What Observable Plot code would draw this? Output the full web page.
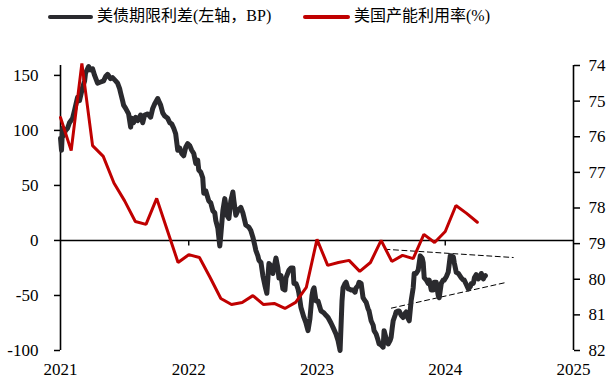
<!DOCTYPE html>
<html>
<head>
<meta charset="utf-8">
<script src="https://cdn.jsdelivr.net/npm/d3@7"></script>
<script src="https://cdn.jsdelivr.net/npm/@observablehq/plot@0.6"></script>
<style>
  html, body { margin: 0; padding: 0; background: #fff; }
  #wrap { width: 608px; height: 383px; position: relative; overflow: hidden; }
  #legend { position: relative; height: 35px; font-family: "Liberation Serif", "Noto Sans CJK SC", serif; font-size: 16px; color: #000; }
  .sw { position: absolute; top: 15px; height: 3.5px; border-radius: 2px; }
  .lt { position: absolute; top: 6px; white-space: nowrap; line-height: 20px; }
  svg { display: block; }
</style>
</head>
<body>
<div id="wrap">
  <div id="legend">
    <div class="sw" style="left:48px;width:45px;background:#2a2a2e"></div>
    <div class="lt" style="left:97px">美债期限利差(左轴，BP)</div>
    <div class="sw" style="left:303px;width:47px;background:#c00000"></div>
    <div class="lt" style="left:354px">美国产能利用率(%)</div>
  </div>
  <div id="chart"></div>
</div>
<script>
// ---- data ----
const years = [2021, 2022, 2023, 2024, 2025];
const leftTicks = [150, 100, 50, 0, -50, -100];
const rightTicks = [74, 75, 76, 77, 78, 79, 80, 81, 82];

// 美债期限利差 (BP), time as decimal year
const spreadT = [
  2021.000, 2021.008, 2021.016, 2021.023, 2021.039, 2021.055, 2021.070, 2021.094, 2021.109, 2021.133,
  2021.148, 2021.172, 2021.188, 2021.195, 2021.211, 2021.219, 2021.234, 2021.250, 2021.266, 2021.289,
  2021.313, 2021.336, 2021.352, 2021.367, 2021.391, 2021.406, 2021.430, 2021.445, 2021.461, 2021.469,
  2021.484, 2021.492, 2021.508, 2021.531, 2021.547, 2021.555, 2021.570, 2021.586, 2021.602, 2021.625,
  2021.641, 2021.656, 2021.680, 2021.703, 2021.719, 2021.734, 2021.758, 2021.773, 2021.781, 2021.797,
  2021.813, 2021.836, 2021.852, 2021.867, 2021.883, 2021.898, 2021.914, 2021.930, 2021.945, 2021.961,
  2021.977, 2021.992, 2022.008, 2022.023, 2022.039, 2022.055, 2022.070, 2022.078, 2022.094, 2022.109,
  2022.117, 2022.133, 2022.156, 2022.172, 2022.188, 2022.203, 2022.211, 2022.227, 2022.242, 2022.250,
  2022.266, 2022.281, 2022.289, 2022.297, 2022.313, 2022.328, 2022.344, 2022.352, 2022.367, 2022.383,
  2022.406, 2022.422, 2022.445, 2022.469, 2022.484, 2022.500, 2022.516, 2022.523, 2022.539, 2022.547,
  2022.563, 2022.578, 2022.594, 2022.609, 2022.625, 2022.641, 2022.656, 2022.680, 2022.695, 2022.703,
  2022.719, 2022.734, 2022.750, 2022.758, 2022.781, 2022.797, 2022.813, 2022.820, 2022.836, 2022.852,
  2022.859, 2022.875, 2022.898, 2022.914, 2022.930, 2022.945, 2022.961, 2022.969, 2022.977, 2022.992,
  2023.008, 2023.031, 2023.055, 2023.070, 2023.086, 2023.109, 2023.125, 2023.148, 2023.164, 2023.180,
  2023.195, 2023.203, 2023.219, 2023.227, 2023.242, 2023.250, 2023.266, 2023.281, 2023.297, 2023.305,
  2023.320, 2023.328, 2023.344, 2023.359, 2023.375, 2023.383, 2023.398, 2023.406, 2023.422, 2023.438,
  2023.445, 2023.461, 2023.477, 2023.484, 2023.500, 2023.516, 2023.523, 2023.539, 2023.555, 2023.570,
  2023.578, 2023.586, 2023.594, 2023.609, 2023.617, 2023.633, 2023.641, 2023.656, 2023.672, 2023.688,
  2023.695, 2023.711, 2023.719, 2023.734, 2023.750, 2023.758, 2023.773, 2023.789, 2023.805, 2023.820,
  2023.828, 2023.836, 2023.852, 2023.867, 2023.875, 2023.891, 2023.906, 2023.914, 2023.930, 2023.945,
  2023.953, 2023.969, 2023.984, 2023.992, 2024.008, 2024.023, 2024.039, 2024.047, 2024.063, 2024.070,
  2024.086, 2024.102, 2024.125, 2024.141, 2024.148, 2024.164, 2024.180, 2024.195, 2024.203, 2024.219,
  2024.227, 2024.242, 2024.258, 2024.273, 2024.281, 2024.297, 2024.305, 2024.313
];
const spreadV = [
  93, 82, 102, 95, 100, 102, 107, 111, 118, 130,
  127, 139, 145, 152, 156, 158, 155, 156, 150, 143,
  144, 145, 149, 151, 147, 148, 145, 143, 138, 134,
  127, 123, 120, 115, 103, 111, 107, 112, 109, 114,
  107, 114, 115, 112, 120, 124, 129, 125, 123, 116,
  113, 111, 107, 106, 102, 97, 82, 84, 79, 77,
  85, 88, 86, 82, 79, 70, 73, 64, 62, 57,
  43, 45, 36, 34, 27, 25, 18, 11, -5, 5,
  27, 38, 32, 23, 20, 36, 44, 36, 23, 27,
  30, 25, 14, 12, 9, 3, -5, -9, -14, -18,
  -20, -32, -41, -48, -21, -23, -30, -16, -25, -34,
  -32, -44, -45, -34, -27, -25, -25, -39, -39, -44,
  -48, -61, -70, -75, -82, -71, -50, -45, -43, -55,
  -55, -64, -66, -68, -70, -75, -79, -85, -91, -100,
  -55, -43, -39, -38, -44, -44, -45, -45, -47, -43,
  -41, -38, -39, -52, -55, -56, -62, -64, -73, -77,
  -82, -85, -91, -94, -95, -97, -82, -89, -94, -91,
  -88, -80, -73, -68, -65, -64, -64, -68, -70, -66,
  -65, -71, -73, -55, -43, -30, -30, -27, -14, -16,
  -20, -34, -36, -39, -36, -45, -45, -38, -38, -50,
  -52, -39, -36, -36, -33, -29, -14, -14, -15, -20,
  -29, -30, -34, -36, -36, -40, -44, -42, -39, -39,
  -34, -31, -35, -33, -30, -35, -33, -32
];

// 美国产能利用率 (%), monthly from 2021-01
const capMonths = d3.range(40).map(i => `${2021 + Math.floor(i / 12)}-${String(i % 12 + 1).padStart(2, "0")}`);
const capValues = [
  75.46, 76.39, 73.94, 76.25, 76.55, 77.30, 77.80, 78.38, 78.46, 77.73, 78.63, 79.53,
  79.31, 79.39, 79.95, 80.54, 80.71, 80.65, 80.46, 80.71, 80.68, 80.82, 80.65, 80.23,
  78.88, 79.61, 79.53, 79.47, 79.78, 79.53, 78.91, 79.50, 79.33, 79.42, 78.74, 78.97,
  78.66, 77.93, 78.15, 78.40
];

// dashed triangle trend lines (BP)
const trendName = ["upper", "upper", "lower", "lower"];
const trendT = [2023.53, 2024.53, 2023.58, 2024.48];
const trendV = [-8, -15.5, -61.5, -38];

// ---- scales: right axis (74 top .. 82 bottom) mapped onto left axis (-100 .. 159) ----
const leftDomain = [-100, 159];
const rTop = 74, rBottom = 82;
const toLeft = r => leftDomain[1] - (r - rTop) * (leftDomain[1] - leftDomain[0]) / (rBottom - rTop);
const fromLeft = v => rTop + (leftDomain[1] - v) * (rBottom - rTop) / (leftDomain[1] - leftDomain[0]);

const spread = spreadT.map((t, i) => ({t, v: spreadV[i]}));
const cap = capMonths.map((m, i) => {
  const [y, mo] = m.split("-").map(Number);
  return {t: y + (mo - 1) / 12, v: toLeft(capValues[i])};
});
const trends = trendT.map((t, i) => ({t, v: trendV[i], z: trendName[i]}));

const chart = Plot.plot({
  width: 608,
  height: 348,
  marginTop: 30,
  marginBottom: 33,
  marginLeft: 60,
  marginRight: 35,
  x: {domain: [years[0], years[years.length - 1]]},
  y: {domain: leftDomain},
  style: {fontFamily: "Liberation Serif, serif", fontSize: "17px", color: "#000", background: "#fff"},
  marks: [
    Plot.ruleY([0], {stroke: "#000", strokeWidth: 1.6}),
    Plot.ruleX([years[0], years[years.length - 1]], {y1: leftDomain[0], y2: leftDomain[1], stroke: "#000", strokeWidth: 1.6}),
    Plot.ruleX(years.slice(1, -1), {y1: 0, y2: -5, stroke: "#000", strokeWidth: 1.4}),
    Plot.axisY({ticks: leftTicks, tickFormat: d => String(d), tickSize: 6, tickPadding: 16, anchor: "left", label: null, strokeWidth: 1.5, fontSize: 17}),
    Plot.axisY({ticks: rightTicks.map(toLeft), tickFormat: d => String(Math.round(fromLeft(d))), tickSize: 6, tickPadding: 9, anchor: "right", label: null, strokeWidth: 1.5, fontSize: 17}),
    Plot.axisX({ticks: years, tickFormat: d => String(d), tickSize: 0, tickPadding: 12, label: null, fontSize: 17}),
    Plot.line(trends, {x: "t", y: "v", z: "z", stroke: "#000", strokeWidth: 1, strokeDasharray: "5,3.5"}),
    Plot.line(spread, {x: "t", y: "v", stroke: "#2a2a2e", strokeWidth: 5, strokeLinejoin: "round"}),
    Plot.line(cap, {x: "t", y: "v", stroke: "#c00000", strokeWidth: 3, strokeLinejoin: "miter"})
  ]
});
document.getElementById("chart").appendChild(chart);
</script>
</body>
</html>
